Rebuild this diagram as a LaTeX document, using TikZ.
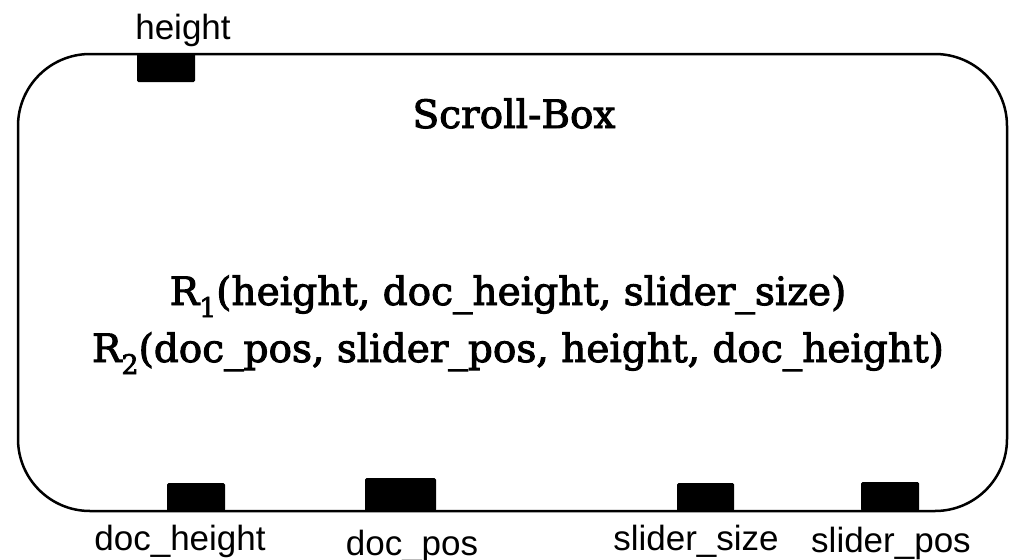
\documentclass[tikz,border=0pt]{standalone}
\usepackage{fontspec}
\newfontfamily\labelfont{Liberation Sans}
\newfontfamily\boxfont[FakeBold=2.5]{DejaVu Serif}
\begin{document}
\begin{tikzpicture}[x=1pt,y=-1pt,
  frame/.style={draw=black, line width=2.5pt, rounded corners=72pt, inner sep=0pt, outer sep=0pt},
  port/.style={fill=black, draw=none, rounded corners=1.5pt, inner sep=0pt, outer sep=0pt},
  portlabel/.style={anchor=base, inner sep=0pt, font=\labelfont\fontsize{35}{38}\selectfont},
  boxtext/.style={anchor=base, inner sep=0pt, font=\boxfont\fontsize{39}{44}\selectfont}]
\newcommand{\subidx}[1]{\raisebox{-12pt}{\fontsize{27}{27}\selectfont #1}}
\useasboundingbox (0,0) rectangle (1013,560);

% component body
\node[frame, minimum width=989pt, minimum height=457pt] (box) at (512.5,282.5) {};

% ports on the border
\node[port, minimum width=58pt, minimum height=29pt] (pheight) at (166,67.5) {};
\node[port, minimum width=58pt, minimum height=28pt] (pdocheight) at (196,497) {};
\node[port, minimum width=71pt, minimum height=33pt] (pdocpos) at (400.5,494.5) {};
\node[port, minimum width=57pt, minimum height=28pt] (pslidersize) at (705.5,497) {};
\node[port, minimum width=58pt, minimum height=29pt] (psliderpos) at (890,496.5) {};

% port names
\node[portlabel] (lheight) at (183,39) {height};
\node[portlabel] (ldocheight) at (180,550) {doc\_height};
\node[portlabel] (ldocpos) at (412,555) {doc\_pos};
\node[portlabel] (lslidersize) at (696,550) {slider\_size};
\node[portlabel] (lsliderpos) at (891,552) {slider\_pos};

% title and relations
\node[boxtext] (title) at (514,128) {Scroll-Box};
\node[boxtext] (rone) at (508,305) {R\subidx{1}(height, doc\_height, slider\_size)};
\node[boxtext] (rtwo) at (518,362) {R\subidx{2}(doc\_pos, slider\_pos, height, doc\_height)};
\end{tikzpicture}
\end{document}
